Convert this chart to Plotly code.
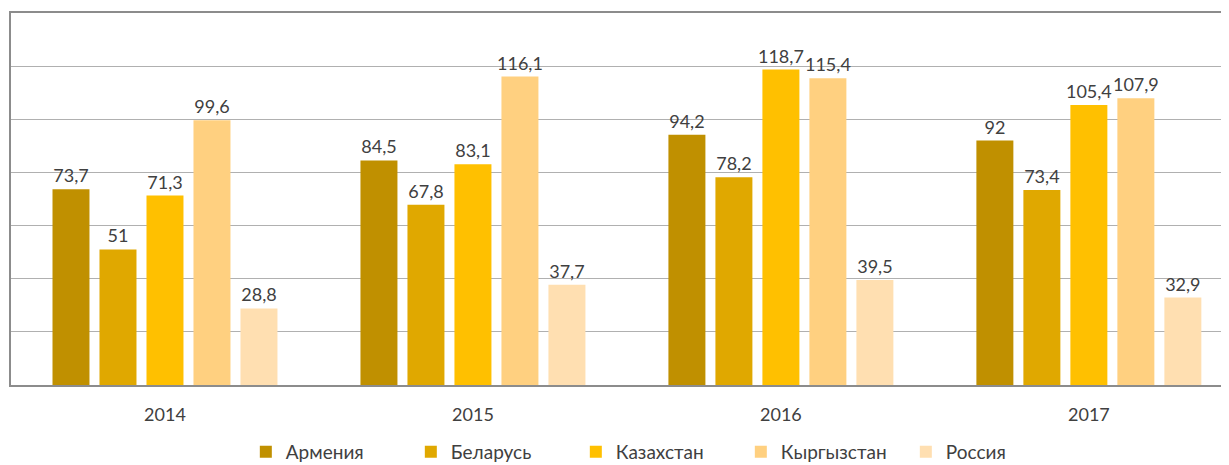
import plotly.graph_objects as go

years = ["2014", "2015", "2016", "2017"]
series_names = ["Армения", "Беларусь", "Казахстан", "Кыргызстан", "Россия"]
armenia = [73.7, 84.5, 94.2, 92]
belarus = [51, 67.8, 78.2, 73.4]
kazakhstan = [71.3, 83.1, 118.7, 105.4]
kyrgyzstan = [99.6, 116.1, 115.4, 107.9]
russia = [28.8, 37.7, 39.5, 32.9]
colors = ["#C09000", "#E0A800", "#FFC000", "#FFD080", "#FFDFB1"]

all_values = [armenia, belarus, kazakhstan, kyrgyzstan, russia]

FONT = "Lato, 'Open Sans', sans-serif"
TXT = "#404040"


def fmt(v):
    s = f"{v:g}"
    return s.replace(".", ",")


fig = go.Figure()
for name, vals, col in zip(series_names, all_values, colors):
    fig.add_trace(go.Bar(
        x=list(range(len(years))),
        y=vals,
        name=name,
        marker=dict(color=col, line=dict(width=0)),
        text=[fmt(v) for v in vals],
        textposition="outside",
        constraintext="none",
        cliponaxis=False,
        textfont=dict(family=FONT, size=18, color=TXT),
        hoverinfo="skip",
    ))

fig.update_layout(
    width=1229,
    height=465,
    margin=dict(l=3, r=0, t=5, b=88, autoexpand=False),
    paper_bgcolor="white",
    plot_bgcolor="white",
    barmode="group",
    bargap=0.237,
    bargroupgap=0.213,
    font=dict(family=FONT, color=TXT),
    legend=dict(
        orientation="h",
        x=0.528, xanchor="center",
        y=-0.180, yanchor="middle",
        font=dict(family=FONT, size=19, color=TXT),
        itemwidth=30,
        entrywidth=120,
        bgcolor="rgba(0,0,0,0)",
    ),
    showlegend=True,
)

fig.update_xaxes(
    tickmode="array",
    tickvals=list(range(len(years))),
    ticktext=years,
    range=[-0.5, 3.481],
    showline=True,
    linecolor="#8C8C8C",
    linewidth=2,
    mirror=True,
    ticks="outside",
    ticklen=12,
    tickcolor="rgba(0,0,0,0)",
    tickfont=dict(family=FONT, size=18, color=TXT),
    showgrid=False,
    zeroline=False,
)
fig.update_yaxes(
    range=[0, 140],
    dtick=20,
    showticklabels=False,
    showgrid=True,
    gridcolor="#B0B0B0",
    gridwidth=1,
    showline=True,
    linecolor="#8C8C8C",
    linewidth=2,
    mirror=False,
    zeroline=False,
)

fig.write_html("out.html")
